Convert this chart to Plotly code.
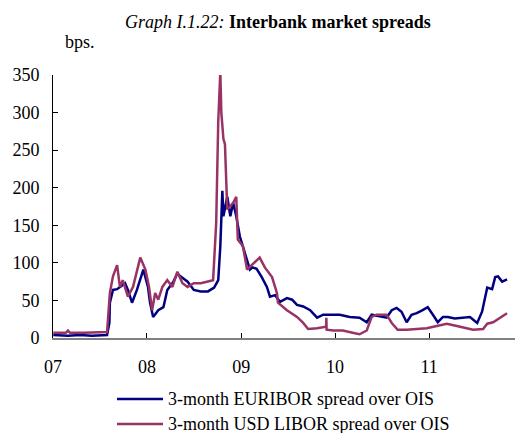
import plotly.graph_objects as go

# 3-month EURIBOR spread over OIS (bps)
euribor_dates = ["2007-01-02", "2007-02-28", "2007-04-16", "2007-06-01", "2007-07-30",
                 "2007-08-08", "2007-08-10", "2007-08-22", "2007-09-07", "2007-10-08",
                 "2007-10-19", "2007-11-04", "2007-11-23", "2007-12-18", "2008-01-05",
                 "2008-01-13", "2008-01-25", "2008-02-14", "2008-03-05", "2008-03-20",
                 "2008-04-13", "2008-04-28", "2008-05-10", "2008-06-07", "2008-07-01",
                 "2008-07-28", "2008-08-25", "2008-09-18", "2008-10-04", "2008-10-12",
                 "2008-10-20", "2008-10-24", "2008-11-08", "2008-11-20", "2008-12-01",
                 "2008-12-13", "2008-12-27", "2009-01-08", "2009-01-24", "2009-02-04",
                 "2009-02-14", "2009-03-02", "2009-03-22", "2009-04-11", "2009-04-23",
                 "2009-05-13", "2009-06-01", "2009-06-28", "2009-07-18", "2009-08-06",
                 "2009-08-30", "2009-09-26", "2009-10-23", "2009-11-16", "2009-12-13",
                 "2010-01-19", "2010-02-27", "2010-04-06", "2010-05-04", "2010-05-23",
                 "2010-06-23", "2010-07-20", "2010-08-09", "2010-08-28", "2010-09-16",
                 "2010-10-06", "2010-10-25", "2010-11-14", "2010-12-07", "2010-12-27",
                 "2011-01-16", "2011-02-04", "2011-02-24", "2011-03-15", "2011-04-11",
                 "2011-05-13", "2011-06-09", "2011-07-07", "2011-07-26", "2011-08-15",
                 "2011-09-03", "2011-09-15", "2011-09-26", "2011-10-12", "2011-10-31"]
euribor = [4, 3, 4, 3, 4,
           20, 47, 64, 65, 73,
           64, 47, 64, 91, 68,
           47, 28, 37, 41, 64,
           75, 86, 82, 75, 64,
           62, 62, 67, 77, 122,
           196, 162, 188, 162, 180,
           162, 135, 122, 104, 91,
           94, 92, 81, 68, 55,
           57, 48, 53, 51, 44,
           42, 37, 27, 31, 31,
           31, 28, 27, 21, 31,
           29, 27, 37, 40, 35,
           21, 31, 33, 37, 41,
           31, 21, 28, 28, 26,
           27, 28, 20, 35, 67,
           65, 81, 82, 75, 78]

# 3-month USD LIBOR spread over OIS (bps)
libor_dates = ["2007-01-02", "2007-02-20", "2007-02-28", "2007-03-08", "2007-05-01",
               "2007-07-30", "2007-08-10", "2007-08-22", "2007-09-07", "2007-09-18",
               "2007-09-29", "2007-10-19", "2007-11-08", "2007-12-06", "2007-12-26",
               "2008-01-09", "2008-01-21", "2008-02-02", "2008-02-14", "2008-03-01",
               "2008-03-20", "2008-04-09", "2008-04-28", "2008-05-18", "2008-06-07",
               "2008-07-01", "2008-07-28", "2008-08-25", "2008-09-14", "2008-09-26",
               "2008-10-04", "2008-10-12", "2008-10-16", "2008-10-24", "2008-10-30",
               "2008-11-08", "2008-12-01", "2008-12-13", "2008-12-19", "2009-01-08",
               "2009-01-24", "2009-02-14", "2009-03-14", "2009-04-03", "2009-05-01",
               "2009-05-20", "2009-05-24", "2009-06-28", "2009-08-06", "2009-08-30",
               "2009-09-18", "2009-10-23", "2009-11-27", "2009-11-28", "2009-11-29",
               "2009-12-25", "2010-01-31", "2010-03-10", "2010-04-06", "2010-05-04",
               "2010-05-23", "2010-06-11", "2010-07-20", "2010-08-09", "2010-09-01",
               "2010-10-06", "2010-11-14", "2010-12-23", "2011-01-31", "2011-03-11",
               "2011-04-19", "2011-05-28", "2011-06-21", "2011-07-30", "2011-08-15",
               "2011-09-07", "2011-10-04", "2011-10-31"]
libor = [7, 7, 10, 7, 7,
         8, 60, 82, 97, 68,
         77, 55, 68, 107, 91,
         68, 37, 60, 51, 68,
         77, 68, 88, 73, 68,
         73, 73, 75, 77, 153,
         288, 354, 300, 265, 258,
         171, 180, 188, 131, 122,
         91, 98, 107, 94, 81,
         60, 47, 37, 28, 20,
         12, 13, 15, 27, 11,
         10, 10, 7, 5, 10,
         28, 31, 31, 20, 11,
         11, 12, 13, 16, 19,
         16, 13, 11, 12, 19,
         21, 27, 33]

year_ticks = ["2007-01-01", "2008-01-01", "2009-01-01", "2010-01-01", "2011-01-01"]
year_labels = ["07", "08", "09", "10", "11"]
y_ticks = [0, 50, 100, 150, 200, 250, 300, 350]

series_names = ["3-month EURIBOR spread over OIS", "3-month USD LIBOR spread over OIS"]
series_colors = ["#000080", "#993366"]

serif = "Liberation Serif, Times New Roman, serif"

fig = go.Figure()
fig.add_trace(go.Scatter(x=euribor_dates, y=euribor, mode="lines",
                         name=series_names[0],
                         line=dict(color=series_colors[0], width=2.5)))
fig.add_trace(go.Scatter(x=libor_dates, y=libor, mode="lines",
                         name=series_names[1],
                         line=dict(color=series_colors[1], width=2.5)))

# page has an 8px body margin, so the figure is 8px smaller than the window
W, H = 515, 425
ml, mt, mb = 45, 67, 95
pw, ph = W - ml, H - mt - mb


def px_x(x):
    # window pixel -> paper x
    return (x - 8 - ml) / pw


def px_y(y):
    # window pixel -> paper y
    return (H - mb + 8 - y) / ph


annotations = [
    dict(text="<i>Graph I.1.22:</i> <b>Interbank market spreads</b>",
         x=px_x(278), y=px_y(22), xanchor="center", yanchor="middle"),
    dict(text="bps.", x=px_x(63), y=px_y(42), xanchor="left", yanchor="middle"),
]
shapes = []
for i, (name, col) in enumerate(zip(series_names, series_colors)):
    ly = 399 + 25 * i
    shapes.append(dict(type="line", xref="paper", yref="paper",
                       x0=px_x(117), x1=px_x(163), y0=px_y(ly), y1=px_y(ly),
                       line=dict(color=col, width=2.5)))
    annotations.append(dict(text=name, x=px_x(166), y=px_y(ly),
                            xanchor="left", yanchor="middle"))
for a in annotations:
    a.update(xref="paper", yref="paper", showarrow=False, font=dict(size=18))

fig.update_layout(
    width=W, height=H,
    margin=dict(l=ml, r=0, t=mt, b=mb, autoexpand=False),
    paper_bgcolor="white", plot_bgcolor="white",
    font=dict(family=serif, size=18, color="black"),
    showlegend=False,
    annotations=annotations,
    shapes=shapes,
)

fig.update_xaxes(range=["2007-01-01", "2012-01-01"], tickvals=year_ticks,
                 ticktext=year_labels, ticks="inside", ticklen=5, tickcolor="black",
                 showline=True, linecolor="#808080", linewidth=2,
                 showgrid=False, zeroline=False, ticklabelstandoff=11)
fig.update_yaxes(range=[0, 350], tickvals=y_ticks, ticks="inside", ticklen=5,
                 tickcolor="black", showline=True, linecolor="black", linewidth=1,
                 showgrid=False, zeroline=False, ticklabelstandoff=9)

fig.write_html("out.html")
